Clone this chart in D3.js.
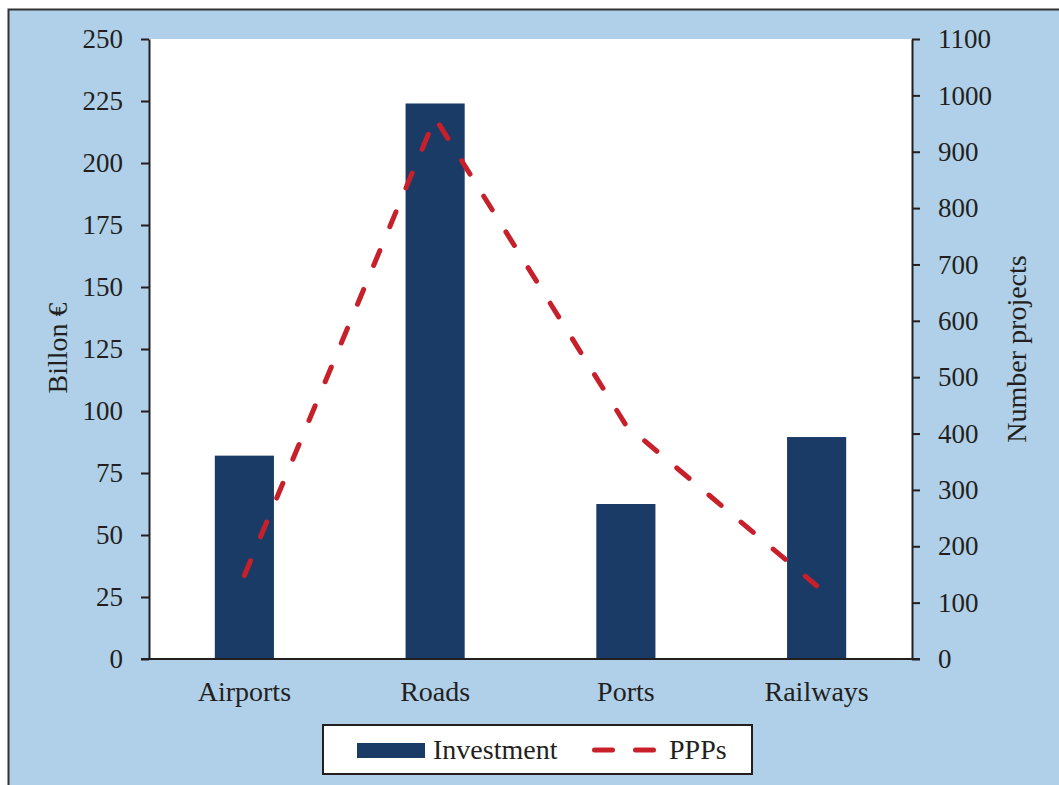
<!DOCTYPE html>
<html>
<head>
<meta charset="utf-8">
<script src="https://cdn.jsdelivr.net/npm/d3@7/dist/d3.min.js"></script>
<style>
  html, body { margin: 0; padding: 0; background: #ffffff; }
  svg { display: block; }
  text { font-family: "Liberation Serif", "Times New Roman", serif; fill: #231f20; }
</style>
</head>
<body>
<svg id="chart" width="1059" height="785"></svg>
<script>
// Sectors on the horizontal axis
const categories = ["Airports", "Roads", "Ports", "Railways"];
// Investment, billion euro (bars, left axis)
const investment = [82, 224, 62.5, 89.5];
// Number of PPP projects (dashed line, right axis)
const ppps = [148, 960, 415, 130];
// Axis tick values
const leftTicks = [0, 25, 50, 75, 100, 125, 150, 175, 200, 225, 250];
const rightTicks = [0, 100, 200, 300, 400, 500, 600, 700, 800, 900, 1000, 1100];

const svg = d3.select("#chart");
const W = 1059, H = 785;
const plot = { left: 149, right: 912, top: 39, bottom: 659 };

const navy = "#193b66";
const red = "#c8202a";
const ink = "#231f20";

// Light blue panel with a thin frame on its top and left edges
svg.append("rect")
  .attr("x", 8).attr("y", 9).attr("width", W).attr("height", H)
  .attr("fill", "#afd0e8");
svg.append("path")
  .attr("d", `M8.5,${H} V9.5 H${W}`)
  .attr("fill", "none").attr("stroke", "#333").attr("stroke-width", 2);

// Plot area
svg.append("rect")
  .attr("x", plot.left).attr("y", plot.top)
  .attr("width", plot.right - plot.left).attr("height", plot.bottom - plot.top)
  .attr("fill", "#ffffff");

const x = d3.scaleBand().domain(categories)
  .range([plot.left, plot.right]).paddingInner(0.69).paddingOuter(0.345);
const xc = d3.scalePoint().domain(categories)
  .range([plot.left, plot.right]).padding(0.5);
const yL = d3.scaleLinear().domain([0, 250]).range([plot.bottom, plot.top]);
const yR = d3.scaleLinear().domain([0, 1100]).range([plot.bottom, plot.top]);

// Bars
svg.append("g").selectAll("rect")
  .data(categories.map((c, i) => ({ c, v: investment[i] })))
  .join("rect")
  .attr("x", d => x(d.c))
  .attr("y", d => yL(d.v))
  .attr("width", x.bandwidth())
  .attr("height", d => yL(0) - yL(d.v))
  .attr("fill", navy);

// Dashed line for project counts
const line = d3.line()
  .x((d, i) => xc(categories[i]))
  .y(d => yR(d));
svg.append("path")
  .datum(ppps)
  .attr("d", line)
  .attr("fill", "none")
  .attr("stroke", red)
  .attr("stroke-width", 5)
  .attr("stroke-linecap", "round")
  .attr("stroke-linejoin", "round")
  .attr("stroke-dasharray", "16,26");

function styleAxis(g) {
  g.selectAll(".domain").attr("stroke", ink).attr("stroke-width", 2);
  g.selectAll(".tick line").attr("stroke", ink).attr("stroke-width", 2);
  g.selectAll(".tick text")
    .attr("font-family", "Liberation Serif, Times New Roman, serif")
    .attr("font-size", 27).attr("fill", ink);
}

// Left axis
svg.append("g")
  .attr("transform", `translate(${plot.left},0)`)
  .call(d3.axisLeft(yL).tickValues(leftTicks).tickFormat(d3.format("d"))
    .tickSize(8).tickSizeOuter(0).tickPadding(18))
  .call(styleAxis);

// Right axis
svg.append("g")
  .attr("transform", `translate(${plot.right},0)`)
  .call(d3.axisRight(yR).tickValues(rightTicks).tickFormat(d3.format("d"))
    .tickSize(8).tickSizeOuter(0).tickPadding(18))
  .call(styleAxis);

// Baseline spanning both zero ticks
svg.append("line")
  .attr("x1", plot.left - 8).attr("x2", plot.right + 8)
  .attr("y1", plot.bottom).attr("y2", plot.bottom)
  .attr("stroke", ink).attr("stroke-width", 2);

// Category labels
svg.append("g").selectAll("text")
  .data(categories)
  .join("text")
  .attr("x", d => xc(d))
  .attr("y", 701)
  .attr("text-anchor", "middle")
  .attr("font-size", 28)
  .text(d => d);

// Axis titles
svg.append("text")
  .attr("transform", "translate(67,348) rotate(-90)")
  .attr("text-anchor", "middle")
  .attr("font-size", 28)
  .text("Billon €");
svg.append("text")
  .attr("transform", "translate(1026,349) rotate(-90)")
  .attr("text-anchor", "middle")
  .attr("font-size", 28)
  .text("Number projects");

// Legend
const lg = svg.append("g");
lg.append("rect")
  .attr("x", 323).attr("y", 725).attr("width", 429).attr("height", 49)
  .attr("fill", "#ffffff").attr("stroke", ink).attr("stroke-width", 2);
lg.append("rect")
  .attr("x", 357).attr("y", 743).attr("width", 68).attr("height", 15)
  .attr("fill", navy);
lg.append("text")
  .attr("x", 433).attr("y", 759).attr("font-size", 28)
  .text("Investment");
lg.append("line")
  .attr("x1", 594.5).attr("x2", 654.5).attr("y1", 750).attr("y2", 750)
  .attr("stroke", red).attr("stroke-width", 5)
  .attr("stroke-linecap", "round")
  .attr("stroke-dasharray", "18,23");
lg.append("text")
  .attr("x", 669).attr("y", 759).attr("font-size", 28)
  .text("PPPs");
</script>
</body>
</html>
